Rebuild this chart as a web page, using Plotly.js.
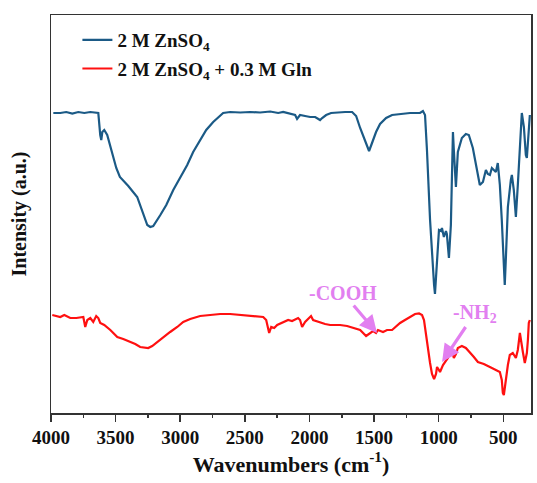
<!DOCTYPE html>
<html><head><meta charset="utf-8">
<script src="https://cdn.plot.ly/plotly-3.0.1.min.js"></script>
<style>
body{margin:0;padding:0;background:#fff}
#wrap{position:relative;width:537px;height:483px}
#chart{width:537px;height:483px}
#frame{position:absolute;left:50px;top:14px;width:482px;height:400px;box-sizing:border-box;border:1.5px solid #333;pointer-events:none}
</style>
</head><body><div id="wrap"><div id="chart"></div><div id="frame"></div></div>
<script>
// Wavenumbers (cm-1) and intensities (a.u.)
const blueWn = [3982,3928,3882,3835,3789,3742,3696,3642,3634,3619,3611,3603,3588,3565,3526,3495,3467,3402,3333,3294,3255,3232,3209,3154,3108,3054,3000,2946,2900,2846,2799,2745,2706,2668,2614,2536,2459,2382,2304,2242,2204,2150,2111,2096,2073,2034,1995,1956,1918,1902,1871,1833,1763,1724,1670,1639,1608,1577,1539,1516,1485,1454,1407,1361,1299,1222,1145,1122,1106,1091,1067,1052,1036,1029,1013,998,983,975,960,944,937,921,906,898,890,883,867,852,821,790,767,736,705,682,658,635,620,604,589,573,558,543,527,512,496,489,481,465,442,434,419,403,388,372,357,341,326,318,303,295];
const blueInt = [300,300,301,299.5,301,300,301,300.5,300,278,273,281,283,278,260,245,236,227,216,203,188,186,187,198,208,223,235,248,261,273,283,291,296,300,301,300.5,301,300.5,301.5,300,301,299,298,294,298,297,296,296,293,295,298,300,301,301,301,297,285,275,262,270,281,289,295,298,299,300,300,302,298,263,193,158,128,119,153,183,182,185,176,182,179,155,188,243,281,263,226,261,275,279,278,265,243,228,231,243,239,238,245,243,241,250,228,193,143,128,153,206,233,238,223,196,228,273,300,286,258,255,283,298];

const redWn = [3990,3959,3928,3897,3851,3804,3773,3750,3735,3719,3696,3673,3650,3634,3619,3588,3541,3487,3441,3387,3348,3310,3271,3248,3217,3178,3132,3078,3023,2977,2923,2846,2768,2691,2614,2536,2474,2420,2358,2335,2319,2312,2296,2273,2250,2212,2165,2135,2088,2073,2057,2034,2003,1988,1972,1949,1918,1879,1840,1763,1709,1663,1608,1562,1531,1508,1485,1470,1431,1400,1361,1299,1261,1222,1183,1152,1129,1114,1091,1067,1052,1036,1021,1013,998,990,967,944,929,913,898,883,867,852,821,790,759,728,697,651,604,558,527,512,504,496,481,465,450,427,403,388,372,365,349,334,318,310,303,295];
const redInt = [98,97,96,98,95,95,96,96,86,93,95,91,97,95,90,88,83,76,74,71,69,66,65,65,67,71,76,81,86,91,94,97,98,99,99,98,97,97,96,93,83,80,86,85,88,90,93,92,95,93,86,91,95,97,93,92,90,89,88,88,87,85,83,77,80,82,80,83,81,83,83,90,93,96,99,99.5,98,93,70,50,39,34,39,46,43,41,48,53,55,61,63,55,59,65,67,65,61,56,51,49,46,43,41,33,20,18,33,48,58,60,55,63,80,73,61,50,60,73,90,93];

const seriesNames = ['2 M ZnSO<sub>4</sub>', '2 M ZnSO<sub>4</sub> + 0.3 M Gln'];
const annoLabels = ['-COOH', '-NH<sub>2</sub>'];
const annoWn = [1477, 974];
const annoInt = [80, 51];

const serif = 'Liberation Serif, Times New Roman, serif';
const violet = '#e27ff0';
const frame = '#333';

const traces = [
  {x: blueWn, y: blueInt, type: 'scatter', mode: 'lines', name: seriesNames[0], legendgroup: 'a',
   line: {color: '#1b5a86', width: 2.2}},
  {x: redWn, y: redInt, type: 'scatter', mode: 'lines', name: seriesNames[1], legendgroup: 'b',
   line: {color: '#ff1010', width: 2.2}},
  // empty trace that only carries the minor-tick axis
  {x: [], y: [], type: 'scatter', mode: 'lines', xaxis: 'x2', showlegend: false, hoverinfo: 'skip'}
];

const layout = {
  width: 537, height: 483,
  margin: {l: 51, r: 6, t: 15, b: 70},
  paper_bgcolor: '#fff', plot_bgcolor: '#fff',
  showlegend: true,
  legend: {x: 0.055, y: 0.985, xanchor: 'left', yanchor: 'top', bgcolor: 'rgba(0,0,0,0)',
    font: {family: serif, size: 19, color: '#111', weight: 'bold'}, tracegroupgap: 1, traceorder: 'grouped'},
  xaxis: {
    range: [4000, 286], tickmode: 'linear', tick0: 0, dtick: 500,
    ticks: 'outside', ticklen: 7, tickwidth: 1.5, tickcolor: frame,
    showline: true, linecolor: frame, linewidth: 1.5, mirror: true,
    showgrid: false, zeroline: false,
    tickfont: {family: serif, size: 19, color: '#111', weight: 'bold'},
    title: {text: '<b>Wavenumbers (cm<sup>-1</sup>)</b>', font: {family: serif, size: 22, color: '#111'}, standoff: 4}
  },
  xaxis2: {
    overlaying: 'x', anchor: 'y', side: 'bottom', matches: 'x',
    range: [4000, 286], tickmode: 'linear', tick0: 250, dtick: 500,
    ticks: 'outside', ticklen: 4, tickwidth: 1.5, tickcolor: frame,
    showticklabels: false, showline: false, showgrid: false, zeroline: false
  },
  yaxis: {
    range: [0, 398], showticklabels: false, ticks: '',
    showline: true, linecolor: frame, linewidth: 1.5, mirror: true,
    showgrid: false, zeroline: false,
    title: {text: '<b>Intensity (a.u.)</b>', font: {family: serif, size: 20, color: '#111'}, standoff: 17}
  },
  annotations: [
    {x: annoWn[0], y: annoInt[0], text: '<b>' + annoLabels[0] + '</b>', showarrow: true, ax: -34, ay: -40,
     arrowhead: 2, arrowsize: 1.1, arrowwidth: 3.2, arrowcolor: violet,
     font: {family: serif, size: 20, color: violet}},
    {x: annoWn[1], y: annoInt[1], text: '<b>' + annoLabels[1] + '</b>', showarrow: true, ax: 33, ay: -49,
     arrowhead: 2, arrowsize: 1.1, arrowwidth: 3.2, arrowcolor: violet,
     font: {family: serif, size: 20, color: violet}}
  ]
};

Plotly.newPlot('chart', traces, layout, {displayModeBar: false, staticPlot: true});
</script>
</body></html>
